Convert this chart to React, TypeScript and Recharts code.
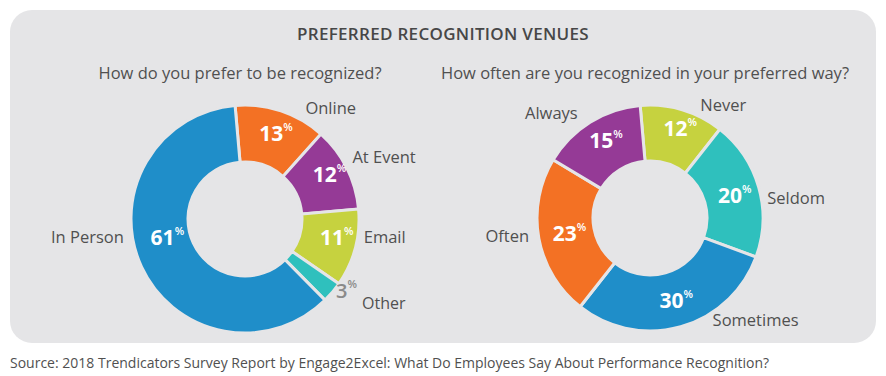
import { PieChart, Pie, Cell } from 'recharts';

const preferNames = ['Online', 'At Event', 'Email', 'Other', 'In Person'];
const preferValues = [13, 12, 11, 3, 61];
const preferColors = ['#f37124', '#953a96', '#c6d23f', '#2fc0bd', '#1f8ec9'];

const oftenNames = ['Never', 'Seldom', 'Sometimes', 'Often', 'Always'];
const oftenValues = [12, 20, 30, 23, 15];
const oftenColors = ['#c6d23f', '#2fc0bd', '#1f8ec9', '#f37124', '#953a96'];

const preferData = preferNames.map((name, i) => ({ name, value: preferValues[i] }));
const oftenData = oftenNames.map((name, i) => ({ name, value: oftenValues[i] }));

const PANEL = '#e5e5e7';
const TEXT = '#505050';
const FONT = '"Open Sans", "Noto Sans", sans-serif';
const RAD = Math.PI / 180;

// hand nudges so the outside labels sit where the designer put them
const nameNudge: Record<string, [number, number]> = {
  Online: [20, 10],
  'At Event': [-7, -5],
  Email: [-5, -15],
  'In Person': [-5, -36],
  Never: [14, 8],
  Seldom: [-5, 14],
  Sometimes: [28, -21],
  Often: [4, -5],
  Always: [-5, 2],
};
const pctNudge: Record<string, [number, number]> = {
  'In Person': [-3, -18],
  Online: [1, -5],
  'At Event': [5, -7],
  Email: [6, -4],
  Never: [3, -9],
  Always: [-2, -6],
};

function Pct({ x, y, value, color }: any) {
  return (
    <text x={x} y={y} textAnchor="middle" dominantBaseline="central" fill={color} fontFamily={FONT}>
      <tspan fontSize={21} fontWeight={700}>{value}</tspan>
      <tspan fontSize={11} fontWeight={600} dy={-7}>%</tspan>
    </text>
  );
}

function renderLabel(props: any) {
  const { cx, cy, midAngle, innerRadius, outerRadius, name, value } = props;
  const cos = Math.cos(-midAngle * RAD);
  const sin = Math.sin(-midAngle * RAD);

  if (value < 5) {
    // small slice: percent sits outside, grey, followed by the name
    const x = cx + (outerRadius + 10) * cos;
    const y = cy + (outerRadius + 10) * sin;
    return (
      <g>
        <text x={x - 4} y={y - 9} dominantBaseline="central" fill="#8a8a8a" fontFamily={FONT}>
          <tspan fontSize={20} fontWeight={600}>{value}</tspan>
          <tspan fontSize={11} fontWeight={600} dy={-7}>%</tspan>
        </text>
        <text x={x + 22} y={y + 4} dominantBaseline="central" fill={TEXT} fontFamily={FONT} fontSize={16}>
          {name}
        </text>
      </g>
    );
  }

  const mr = (innerRadius + outerRadius) / 2;
  const pn = pctNudge[name] || [0, 0];
  const px = cx + mr * cos + pn[0];
  const py = cy + mr * sin + pn[1];

  const nr = outerRadius + 14;
  const nn = nameNudge[name] || [0, 0];
  const nx = cx + nr * cos + nn[0];
  const ny = cy + nr * sin + nn[1];

  return (
    <g>
      <Pct x={px + 3} y={py} value={value} color="#ffffff" />
      <text
        x={nx}
        y={ny}
        textAnchor={cos >= 0 ? 'start' : 'end'}
        dominantBaseline="central"
        fill={TEXT}
        fontFamily={FONT}
        fontSize={16.5}
      >
        {name}
      </text>
    </g>
  );
}

export default function App() {
  return (
    <div style={{ position: 'absolute', left: 0, top: 0, width: 886, height: 376, background: '#ffffff', fontFamily: FONT }}>
      <div style={{ position: 'absolute', left: 10, top: 10, width: 866, height: 333, background: PANEL, borderRadius: 22 }} />
      <div style={{ position: 'absolute', left: 0, top: 22, width: 886, textAlign: 'center', fontSize: 17, fontWeight: 600, color: '#474747', letterSpacing: 0.3 }}>
        PREFERRED RECOGNITION VENUES
      </div>
      <div style={{ position: 'absolute', left: 20, top: 61, width: 440, textAlign: 'center', fontSize: 16.5, color: TEXT, whiteSpace: 'nowrap' }}>
        How do you prefer to be recognized?
      </div>
      <div style={{ position: 'absolute', left: 425, top: 61, width: 440, textAlign: 'center', fontSize: 16.5, color: TEXT, whiteSpace: 'nowrap' }}>
        How often are you recognized in your preferred way?
      </div>
      <div style={{ position: 'absolute', left: 0, top: 0 }}>
        <PieChart width={886} height={376}>
          <Pie
            data={preferData}
            dataKey="value"
            nameKey="name"
            cx={240}
            cy={214}
            innerRadius={57}
            outerRadius={114}
            startAngle={95}
            endAngle={-265}
            stroke={PANEL}
            strokeWidth={3}
            label={renderLabel}
            labelLine={false}
            isAnimationActive={false}
          >
            {preferData.map((d, i) => (
              <Cell key={d.name} fill={preferColors[i]} />
            ))}
          </Pie>
          <Pie
            data={oftenData}
            dataKey="value"
            nameKey="name"
            cx={645}
            cy={213}
            innerRadius={57}
            outerRadius={113}
            startAngle={95}
            endAngle={-265}
            stroke={PANEL}
            strokeWidth={3}
            label={renderLabel}
            labelLine={false}
            isAnimationActive={false}
          >
            {oftenData.map((d, i) => (
              <Cell key={d.name} fill={oftenColors[i]} />
            ))}
          </Pie>
        </PieChart>
      </div>
      <div style={{ position: 'absolute', left: 10, top: 353, fontSize: 14, color: TEXT, whiteSpace: 'nowrap' }}>
        Source: 2018 Trendicators Survey Report by Engage2Excel: What Do Employees Say About Performance Recognition?
      </div>
    </div>
  );
}
